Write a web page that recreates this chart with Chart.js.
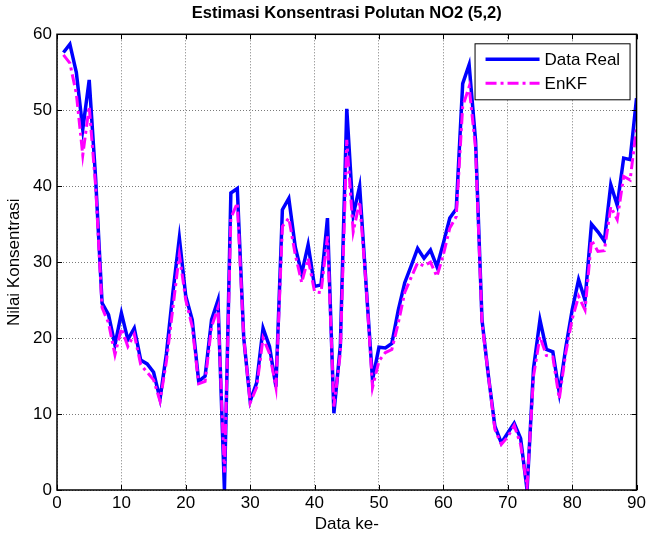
<!DOCTYPE html>
<html>
<head>
<meta charset="utf-8">
<title>Estimasi Konsentrasi Polutan NO2 (5,2)</title>
<script src="https://cdn.jsdelivr.net/npm/chart.js@4.4.0/dist/chart.umd.min.js"></script>
<style>
  html, body { margin: 0; padding: 0; background: #fff; }
</style>
</head>
<body>
<canvas id="no2Chart" width="649" height="537"></canvas>
<script>
// Data ke- (sample index)
const dataKe = [
    1, 2, 3, 4, 5, 6, 7, 8, 9, 10,
    11, 12, 13, 14, 15, 16, 17, 18, 19, 20,
    21, 22, 23, 24, 25, 26, 27, 28, 29, 30,
    31, 32, 33, 34, 35, 36, 37, 38, 39, 40,
    41, 42, 43, 44, 45, 46, 47, 48, 49, 50,
    51, 52, 53, 54, 55, 56, 57, 58, 59, 60,
    61, 62, 63, 64, 65, 66, 67, 68, 69, 70,
    71, 72, 73, 74, 75, 76, 77, 78, 79, 80,
    81, 82, 83, 84, 85, 86, 87, 88, 89, 90
];

// Data Real (measured NO2 concentration)
const dataReal = [
    57.6, 58.7, 55.0, 47.5, 54.0, 41.0, 24.6, 23.1, 19.1, 23.3,
    19.8, 21.3, 17.1, 16.6, 15.5, 12.0, 18.0, 26.0, 33.2, 25.5,
    22.4, 14.3, 15.0, 22.4, 25.0, 0.0, 39.1, 39.7, 20.0, 11.7,
    14.1, 21.3, 18.9, 13.6, 36.9, 38.4, 32.0, 28.5, 32.3, 26.8,
    27.0, 35.8, 10.1, 19.0, 50.2, 36.2, 40.0, 27.0, 14.5, 18.8,
    18.7, 19.3, 23.7, 27.3, 29.5, 31.8, 30.5, 31.6, 29.4, 32.5,
    35.8, 37.0, 53.5, 56.0, 46.0, 22.4, 15.0, 8.4, 6.2, 7.5,
    8.8, 6.8, 0.0, 16.0, 22.4, 18.5, 18.2, 12.8, 18.7, 23.7,
    27.7, 25.0, 35.0, 34.0, 32.8, 40.2, 37.5, 43.7, 43.5, 51.6
];

// EnKF estimate
const enkf = [
    57.3, 56.2, 52.2, 44.1, 50.5, 40.0, 24.0, 22.0, 17.8, 21.3,
    18.9, 20.5, 16.5, 15.5, 14.5, 11.7, 17.0, 24.0, 31.0, 25.0,
    21.5, 14.0, 14.3, 21.5, 24.0, 2.3, 35.8, 37.8, 20.0, 11.5,
    13.5, 20.0, 18.0, 13.5, 34.7, 35.8, 31.0, 27.3, 30.5, 26.1,
    26.0, 33.4, 11.0, 18.0, 46.1, 34.0, 38.0, 27.0, 13.5, 17.0,
    18.1, 18.5, 22.0, 26.0, 28.0, 29.9, 29.5, 30.0, 28.1, 31.0,
    34.5, 36.0, 50.5, 53.1, 45.0, 22.0, 15.0, 8.0, 6.0, 7.0,
    8.5, 6.0, 0.5, 15.0, 20.2, 17.7, 17.5, 12.0, 18.0, 22.5,
    25.5, 23.7, 32.9, 31.4, 31.5, 37.3, 35.6, 41.3, 40.8, 47.8
];

const xTicks = [0, 10, 20, 30, 40, 50, 60, 70, 80, 90];
const yTicks = [0, 10, 20, 30, 40, 50, 60];

const FONT = "'Liberation Sans', Arial, Helvetica, sans-serif";

// MATLAB style box with inward ticks on all four sides
const matlabFrame = {
    id: 'matlabFrame',
    afterDatasetsDraw(chart) {
        const { ctx, chartArea: a, scales } = chart;
        const len = 5;
        ctx.save();
        ctx.strokeStyle = '#000';
        ctx.lineWidth = 1;
        ctx.beginPath();
        xTicks.forEach(v => {
            const px = Math.round(scales.x.getPixelForValue(v)) + 0.5;
            ctx.moveTo(px, a.bottom); ctx.lineTo(px, a.bottom - len);
            ctx.moveTo(px, a.top); ctx.lineTo(px, a.top + len);
        });
        yTicks.forEach(v => {
            const py = Math.round(scales.y.getPixelForValue(v)) + 0.5;
            ctx.moveTo(a.left, py); ctx.lineTo(a.left + len, py);
            ctx.moveTo(a.right, py); ctx.lineTo(a.right - len, py);
        });
        ctx.stroke();
        ctx.lineWidth = 1.5;
        ctx.strokeRect(a.left, a.top, a.right - a.left, a.bottom - a.top);
        ctx.restore();
    }
};

// Legend box in the upper right corner of the axes
const matlabLegend = {
    id: 'matlabLegend',
    afterDraw(chart) {
        const { ctx, chartArea: a } = chart;
        const boxW = 155, boxH = 56;
        const x0 = a.right - 7 - boxW;
        const y0 = a.top + 9;
        ctx.save();
        ctx.fillStyle = '#fff';
        ctx.fillRect(x0, y0, boxW, boxH);
        ctx.strokeStyle = '#000';
        ctx.lineWidth = 1;
        ctx.strokeRect(x0 + 0.5, y0 + 0.5, boxW, boxH);

        const items = [chart.data.datasets[1], chart.data.datasets[0]];
        items.forEach((ds, i) => {
            const yy = y0 + 16 + i * 24;
            ctx.beginPath();
            ctx.strokeStyle = ds.borderColor;
            ctx.lineWidth = ds.borderWidth;
            ctx.setLineDash(ds.borderDash || []);
            ctx.moveTo(x0 + 11, yy);
            ctx.lineTo(x0 + 65, yy);
            ctx.stroke();
            ctx.setLineDash([]);
            ctx.fillStyle = '#000';
            ctx.font = '17px ' + FONT;
            ctx.textAlign = 'left';
            ctx.textBaseline = 'middle';
            ctx.fillText(ds.label, x0 + 70, yy + 1);
        });
        ctx.restore();
    }
};

function toPoints(values) {
    return values.map((v, i) => ({ x: dataKe[i], y: v }));
}

const ctx = document.getElementById('no2Chart').getContext('2d');

new Chart(ctx, {
    type: 'line',
    data: {
        datasets: [{
            label: 'EnKF',
            data: toPoints(enkf),
            borderColor: '#ff00ff',
            borderWidth: 3,
            borderDash: [11, 4, 3, 4],
            pointRadius: 0,
            tension: 0,
            order: 0
        }, {
            label: 'Data Real',
            data: toPoints(dataReal),
            borderColor: '#0000ff',
            borderWidth: 3.5,
            pointRadius: 0,
            tension: 0,
            order: 1
        }]
    },
    options: {
        responsive: false,
        animation: false,
        devicePixelRatio: 1,
        layout: {
            padding: { left: 0, right: 10, top: 0, bottom: 0 }
        },
        plugins: {
            legend: { display: false },
            tooltip: { enabled: false },
            title: {
                display: true,
                fullSize: false,
                text: 'Estimasi Konsentrasi Polutan NO2 (5,2)',
                color: '#000',
                font: { family: FONT, size: 16.5, weight: 'bold' },
                padding: { top: 4, bottom: 10.5 }
            }
        },
        scales: {
            x: {
                type: 'linear',
                min: 0,
                max: 90,
                afterFit: scale => { scale.height = 47; },
                afterBuildTicks: scale => { scale.ticks = xTicks.map(v => ({ value: v })); },
                ticks: {
                    color: '#000',
                    font: { family: FONT, size: 17 },
                    padding: 3,
                    maxRotation: 0
                },
                grid: {
                    color: '#7a7a7a',
                    lineWidth: 1,
                    drawTicks: false
                },
                border: { display: false, dash: [1, 2] },
                title: {
                    display: true,
                    text: 'Data ke-',
                    color: '#000',
                    font: { family: FONT, size: 17 },
                    padding: { top: 0, bottom: 2 }
                }
            },
            y: {
                min: 0,
                max: 60,
                afterFit: scale => { scale.width = 57; },
                afterBuildTicks: scale => { scale.ticks = yTicks.map(v => ({ value: v })); },
                ticks: {
                    color: '#000',
                    font: { family: FONT, size: 17 },
                    padding: 5
                },
                grid: {
                    color: '#7a7a7a',
                    lineWidth: 1,
                    drawTicks: false
                },
                border: { display: false, dash: [1, 2] },
                title: {
                    display: true,
                    text: 'Nilai Konsentrasi',
                    color: '#000',
                    font: { family: FONT, size: 17 },
                    padding: { top: 4, bottom: 0 }
                }
            }
        }
    },
    plugins: [matlabFrame, matlabLegend]
});
</script>
</body>
</html>
